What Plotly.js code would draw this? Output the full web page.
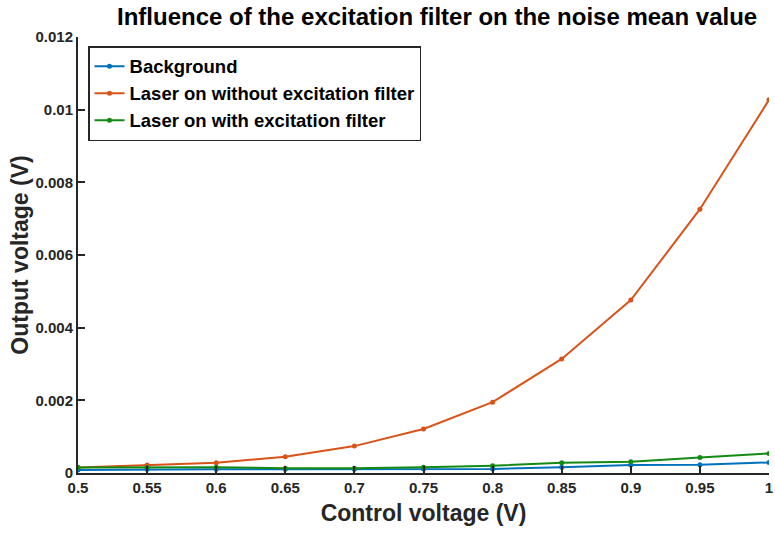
<!DOCTYPE html>
<html>
<head>
<meta charset="utf-8">
<script src="https://cdn.plot.ly/plotly-3.0.1.min.js"></script>
<style>html,body{margin:0;padding:0;background:#fff;}#chart{width:775px;height:539px;}</style>
</head>
<body>
<div id="chart"></div>
<script>
const controlVoltage = [0.5, 0.55, 0.6, 0.65, 0.7, 0.75, 0.8, 0.85, 0.9, 0.95, 1.0];
const background = [0.00008, 0.0001, 0.0001, 0.0001, 0.0001, 0.00011, 0.00011, 0.00016, 0.00022, 0.00023, 0.00029];
const laserNoFilter = [0.00015, 0.00022, 0.00028, 0.00045, 0.00074, 0.00121, 0.00195, 0.00314, 0.00476, 0.00726, 0.01027];
const laserWithFilter = [0.00015, 0.00015, 0.00016, 0.00013, 0.00013, 0.00016, 0.0002, 0.00028, 0.00031, 0.00043, 0.00054];
const seriesNames = ["Background", "Laser on without excitation filter", "Laser on with excitation filter"];
const xTicks = [0.5, 0.55, 0.6, 0.65, 0.7, 0.75, 0.8, 0.85, 0.9, 0.95, 1];
const xTickText = ["0.5", "0.55", "0.6", "0.65", "0.7", "0.75", "0.8", "0.85", "0.9", "0.95", "1"];
const yTicks = [0, 0.002, 0.004, 0.006, 0.008, 0.01, 0.012];
const yTickText = ["0", "0.002", "0.004", "0.006", "0.008", "0.01", "0.012"];

const colors = ["#0072BD", "#D95319", "#138A13"];
const ys = [background, laserNoFilter, laserWithFilter];
const traces = ys.map((y, i) => ({
  x: controlVoltage, y: y, name: "<b>" + seriesNames[i] + "</b>", type: "scatter", mode: "lines+markers",
  line: {color: colors[i], width: 2}, marker: {color: colors[i], size: 5}
}));

const font = {family: "Liberation Sans, Arial, sans-serif", color: "#000"};
const layout = {
  width: 775, height: 539,
  margin: {l: 78, r: 6, t: 37, b: 66},
  paper_bgcolor: "#fff", plot_bgcolor: "#fff",
  font: font,
  title: {text: "<b>Influence of the excitation filter on the noise mean value</b>", font: {size: 24, family: font.family, color: "#000"}, x: 0.564, xanchor: "center", y: 0.985, yanchor: "top"},
  xaxis: {
    range: [0.5, 1], tickvals: xTicks, ticktext: xTickText.map(t => "<b>" + t + "</b>"),
    showgrid: false, zeroline: false, showline: true, linecolor: "#262626", linewidth: 2,
    ticks: "inside", ticklen: 7, tickwidth: 2, tickcolor: "#262626",
    tickfont: {size: 15, color: "#262626"},
    title: {text: "<b>Control voltage (V)</b>", font: {size: 23, color: "#262626"}, standoff: 10}
  },
  yaxis: {
    range: [0, 0.012], tickvals: yTicks, ticktext: yTickText.map(t => "<b>" + t + "</b>"),
    showgrid: false, zeroline: false, showline: true, linecolor: "#262626", linewidth: 2,
    ticks: "inside", ticklen: 7, tickwidth: 2, tickcolor: "#262626",
    tickfont: {size: 15, color: "#262626"},
    title: {text: "<b>Output voltage (V)</b>", font: {size: 23, color: "#262626"}, standoff: 0}
  },
  legend: {
    x: 0.0145, y: 0.979, xanchor: "left", yanchor: "top",
    bgcolor: "#fff", bordercolor: "#262626", borderwidth: 1.5,
    font: {size: 18.5, color: "#000"}, tracegroupgap: 0, itemwidth: 30
  },
  showlegend: true
};
Plotly.newPlot("chart", traces, layout, {displayModeBar: false, staticPlot: true});
</script>
</body>
</html>
